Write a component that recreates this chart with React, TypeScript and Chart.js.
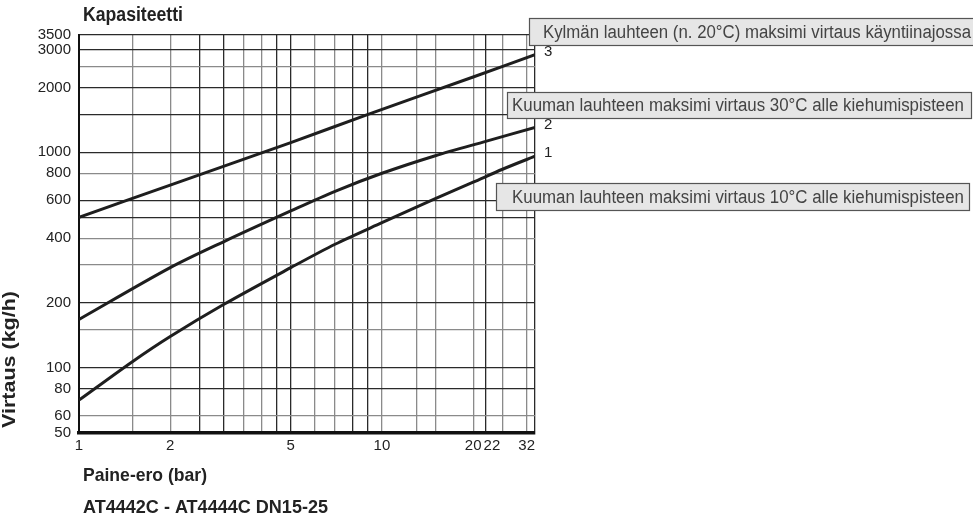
import React, { useEffect, useRef } from "react";
import { Chart, registerables } from "chart.js";

Chart.register(...registerables);

// ---- data ----
const xGrid = [1, 1.5, 2, 2.5, 3, 3.5, 4, 4.5, 5, 6, 7, 8, 9, 10, 13, 15, 20, 22, 25, 30, 32];
const xLabels = [1, 2, 5, 10, 20, 22, 32];
const yGrid = [50, 60, 80, 100, 150, 200, 300, 400, 500, 600, 800, 1000, 1500, 2000, 2500, 3000, 3500];
const yLabels = [50, 60, 80, 100, 200, 400, 600, 800, 1000, 2000, 3000, 3500];

const x3 = [1, 2, 5, 9, 20, 32];
const curve3 = [500, 705, 1110, 1500, 2235, 2840];
const x2 = [1, 2, 3, 5, 7, 10, 15, 22, 32];
const curve2 = [168, 292, 385, 535, 660, 800, 965, 1125, 1305];
const x1 = [1, 1.5, 2, 3, 5, 7, 10, 15, 20, 25, 32];
const curve1 = [71, 107, 140, 197, 292, 375, 472, 610, 727, 835, 960];

const curveNames = ["1", "2", "3"];
const title = "Kapasiteetti";
const yTitle = "Virtaus (kg/h)";
const xTitle = "Paine-ero (bar)";
const footer = "AT4442C - AT4444C DN15-25";
const notes = [
  "Kylmän lauhteen (n. 20°C) maksimi virtaus käyntiinajossa",
  "Kuuman lauhteen maksimi virtaus 30°C alle kiehumispisteen",
  "Kuuman lauhteen maksimi virtaus 10°C alle kiehumispisteen",
];

const darkX = [2.5, 3, 4.5, 5, 8, 9, 22, 32];
const darkY = [3000, 2000, 1500, 1000, 600, 500, 200, 100, 80, 3500];

const W = 973;
const H = 521;

function fitText(
  ctx: CanvasRenderingContext2D,
  text: string,
  x: number,
  y: number,
  width: number,
  font: string,
  color: string
) {
  ctx.save();
  ctx.font = font;
  const w = ctx.measureText(text).width;
  ctx.translate(x, y);
  ctx.scale(width / w, 1);
  ctx.fillStyle = color;
  ctx.textAlign = "left";
  ctx.textBaseline = "alphabetic";
  ctx.fillText(text, 0, 0);
  ctx.restore();
}

const toPts = (xs: number[], ys: number[]) => xs.map((x, i) => ({ x, y: ys[i] }));

function xLabelText(v: number): string {
  if (!xLabels.includes(v)) return "";
  if (v === 22) return "   22";
  if (v === 32) return "32    ";
  return String(v);
}

export default function App() {
  const ref = useRef<HTMLCanvasElement | null>(null);

  useEffect(() => {
    if (!ref.current) return;
    const textPlugin = {
      id: "texts",
      afterDraw(chart: any) {
        const ctx: CanvasRenderingContext2D = chart.ctx;
        const xs = chart.scales.x;
        const ys = chart.scales.y;
        // curve end labels
        const ends = [curve1, curve2, curve3];
        ctx.save();
        ctx.font = "15px 'Liberation Sans', Arial, sans-serif";
        ctx.fillStyle = "#222";
        ctx.textAlign = "left";
        ctx.textBaseline = "middle";
        ends.forEach((c, i) => {
          const yy = ys.getPixelForValue(c[c.length - 1]);
          ctx.fillText(curveNames[i], xs.getPixelForValue(32) + 9, yy - 3);
        });
        ctx.restore();

        // titles
        const bold = "bold 19px 'Liberation Sans', Arial, sans-serif";
        fitText(ctx, title, 83, 21, 100, "bold 20px 'Liberation Sans', Arial, sans-serif", "#222");
        fitText(ctx, xTitle, 83, 481, 124, bold, "#222");
        fitText(ctx, footer, 83, 513, 245, bold, "#222");
        ctx.save();
        ctx.translate(15, 428);
        ctx.rotate(-Math.PI / 2);
        fitText(ctx, yTitle, 0, 0, 137, bold, "#222");
        ctx.restore();

        // annotation boxes
        const boxes = [
          { x: 529, y: 18, w: 450, h: 27, tx: 543, ty: 38, tw: 428 },
          { x: 507, y: 92, w: 464, h: 26, tx: 512, ty: 111, tw: 452 },
          { x: 496, y: 183, w: 473, h: 27, tx: 512, ty: 203, tw: 452 },
        ];
        boxes.forEach((b, i) => {
          ctx.save();
          ctx.fillStyle = "#e6e6e6";
          ctx.strokeStyle = "#555";
          ctx.lineWidth = 1.2;
          ctx.fillRect(b.x, b.y, b.w, b.h);
          ctx.strokeRect(b.x + 0.5, b.y + 0.5, b.w, b.h);
          ctx.restore();
          fitText(ctx, notes[i], b.tx, b.ty, b.tw, "18px 'Liberation Sans', Arial, sans-serif", "#444");
        });
      },
    };

    const lineStyle = {
      borderColor: "#1e1e1e",
      borderWidth: 3,
      pointRadius: 0,
      showLine: true,
      fill: false,
      tension: 0.3,
    };

    const chart = new Chart(ref.current, {
      type: "scatter",
      data: {
        datasets: [
          { label: curveNames[0], data: toPts(x1, curve1), ...lineStyle },
          { label: curveNames[1], data: toPts(x2, curve2), ...lineStyle },
          { label: curveNames[2], data: toPts(x3, curve3), ...lineStyle },
        ],
      },
      options: {
        animation: false,
        responsive: true,
        maintainAspectRatio: false,
        layout: { padding: { left: 0, right: W - 535, top: 35, bottom: 58 } },
        plugins: { legend: { display: false }, tooltip: { enabled: false } },
        scales: {
          x: {
            type: "logarithmic",
            min: 1,
            max: 32,
            afterBuildTicks: (s: any) => {
              s.ticks = xGrid.map((v) => ({ value: v }));
            },
            afterFit: (s: any) => {
              s.height = 30;
            },
            ticks: {
              autoSkip: false,
              maxRotation: 0,
              padding: 4,
              color: "#222",
              font: { family: "'Liberation Sans', Arial, sans-serif", size: 15 },
              callback: (v: any) => xLabelText(Number(v)),
            },
            grid: {
              drawTicks: false,
              lineWidth: 1.3,
              color: (c: any) => (darkX.includes(c.tick?.value) ? "#2a2a2a" : "#8a8a8a"),
            },
            border: { color: "#111", width: 3.5 },
          },
          y: {
            type: "logarithmic",
            min: 50,
            max: 3500,
            afterBuildTicks: (s: any) => {
              s.ticks = yGrid.map((v) => ({ value: v }));
            },
            afterFit: (s: any) => {
              s.width = 79;
            },
            ticks: {
              autoSkip: false,
              padding: 8,
              color: "#222",
              font: { family: "'Liberation Sans', Arial, sans-serif", size: 15 },
              callback: (v: any) => (yLabels.includes(Number(v)) ? String(v) : ""),
            },
            grid: {
              drawTicks: false,
              lineWidth: 1.3,
              color: (c: any) => (darkY.includes(c.tick?.value) ? "#2a2a2a" : "#8a8a8a"),
            },
            border: { color: "#111", width: 2 },
          },
        },
      },
      plugins: [textPlugin],
    });
    return () => chart.destroy();
  }, []);

  return (
    <div style={{ position: "fixed", left: 0, top: 0, width: W, height: H, background: "#fff" }}>
      <canvas ref={ref} />
    </div>
  );
}
